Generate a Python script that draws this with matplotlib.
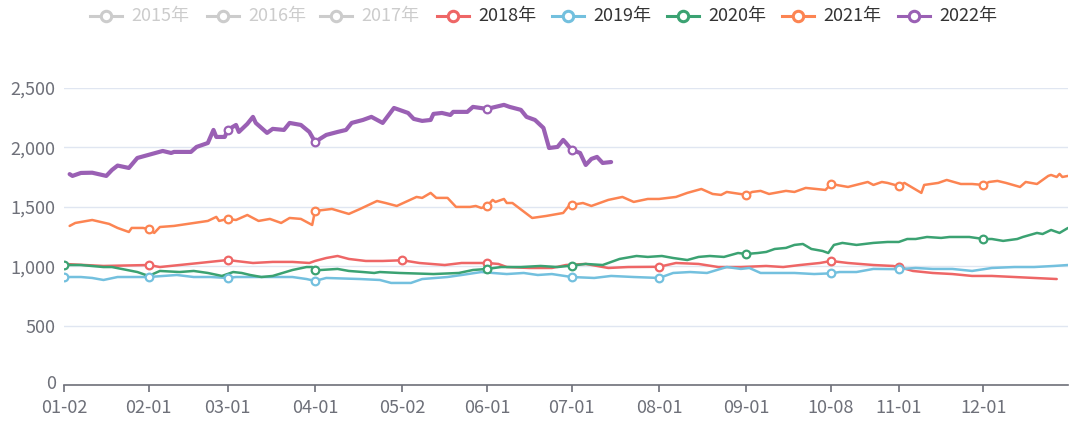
import matplotlib
matplotlib.use("Agg")
import matplotlib.pyplot as plt
from matplotlib.lines import Line2D
from matplotlib.transforms import ScaledTranslation
import pandas as pd

plt.rcParams['font.family'] = ['Noto Sans CJK SC', 'DejaVu Sans']

# ---------------- data ----------------
legend_names = ["2015年", "2016年", "2017年", "2018年", "2019年", "2020年", "2021年", "2022年"]
legend_active = [False, False, False, True, True, True, True, True]
tick_labels = ["01-02", "02-01", "03-01", "04-01", "05-02", "06-01", "07-01",
               "08-01", "09-01", "10-08", "11-01", "12-01"]

d2018 = ["01-02", "01-16", "02-01", "02-05", "02-19", "03-01", "03-10", "03-17", "03-24", "03-30",
         "04-01", "04-05", "04-09", "04-13", "04-19", "04-25", "05-02", "05-08", "05-17", "05-23",
         "06-01", "06-05", "06-08", "06-16", "06-24", "06-29", "07-06", "07-14", "07-21", "08-01",
         "08-07", "08-15", "08-22", "08-30", "09-08", "09-14", "09-20", "09-27", "10-08", "10-14",
         "10-23", "10-30", "11-01", "11-06", "11-13", "11-20", "11-27", "12-04", "12-12", "12-19",
         "12-27"]
v2018 = [1019, 1002, 1010, 993, 1027, 1052, 1027, 1036, 1036, 1027,
         1044, 1069, 1086, 1061, 1044, 1044, 1050, 1027, 1010, 1027,
         1027, 1019, 993, 985, 985, 1010, 1019, 985, 993, 995,
         1027, 1019, 993, 993, 1002, 993, 1010, 1027, 1044, 1027,
         1010, 1002, 993, 960, 943, 934, 918, 918, 909, 901,
         892]
m2018 = ["02-01", "03-01", "05-02", "06-01", "08-01", "10-08", "11-01"]

d2019 = ["01-02", "01-08", "01-12", "01-16", "01-21", "02-01", "02-11", "02-17", "02-23", "03-01",
         "03-04", "03-13", "03-24", "03-29", "04-01", "04-05", "04-17", "04-24", "04-28", "05-05",
         "05-09", "05-18", "05-23", "05-30", "06-03", "06-08", "06-14", "06-19", "06-24", "07-01",
         "07-09", "07-15", "07-23", "08-01", "08-06", "08-12", "08-18", "08-25", "08-30", "09-02",
         "09-06", "09-18", "09-25", "10-08", "10-11", "10-17", "10-23", "11-01", "11-07", "11-13",
         "11-20", "11-27", "12-04", "12-12", "12-19", "12-26", "12-31"]
v2019 = [909, 909, 901, 884, 909, 909, 926, 909, 909, 901,
         909, 909, 909, 892, 876, 901, 892, 884, 859, 859,
         892, 909, 926, 951, 943, 934, 943, 926, 934, 909,
         901, 918, 909, 901, 943, 951, 943, 993, 977, 985,
         943, 943, 934, 940, 951, 951, 977, 975, 985, 977,
         977, 960, 985, 993, 993, 1002, 1010]
m2019 = ["01-02", "02-01", "03-01", "04-01", "07-01", "08-01", "10-08", "11-01"]

d2020 = ["01-02", "01-08", "01-16", "01-19", "01-28", "02-01", "02-05", "02-12", "02-17", "02-22",
         "02-27", "03-03", "03-06", "03-09", "03-13", "03-17", "03-24", "03-29", "03-31", "04-01",
         "04-09", "04-13", "04-18", "04-22", "04-24", "05-01", "05-13", "05-22", "05-27", "06-01",
         "06-06", "06-13", "06-20", "06-26", "07-01", "07-06", "07-12", "07-18", "07-24", "07-28",
         "08-02", "08-06", "08-11", "08-15", "08-19", "08-24", "08-29", "09-01", "09-05", "09-08",
         "09-11", "09-15", "09-18", "09-21", "09-24", "09-28", "09-30", "10-09", "10-12", "10-17",
         "10-23", "10-28", "11-01", "11-04", "11-07", "11-11", "11-16", "11-19", "11-26", "12-01",
         "12-04", "12-08", "12-13", "12-15", "12-20", "12-22", "12-25", "12-28", "12-31"]
v2020 = [1010, 1010, 993, 993, 951, 918, 960, 951, 960, 943,
         918, 951, 943, 926, 909, 918, 968, 993, 993, 965,
         977, 960, 951, 943, 951, 943, 934, 943, 968, 977,
         993, 993, 1002, 993, 1005, 1019, 1010, 1061, 1086, 1078,
         1086, 1069, 1052, 1078, 1086, 1078, 1111, 1103, 1111, 1120,
         1145, 1154, 1179, 1187, 1145, 1128, 1111, 1179, 1196, 1179,
         1196, 1204, 1204, 1229, 1229, 1246, 1238, 1246, 1246, 1229,
         1229, 1213, 1229, 1246, 1280, 1271, 1305, 1280, 1322]
m2020 = ["01-02", "04-01", "06-01", "07-01", "09-01", "12-01"]

d2021 = ["01-04", "01-06", "01-12", "01-18", "01-21", "01-25", "01-26", "01-30", "02-01", "02-03",
         "02-05", "02-10", "02-22", "02-25", "02-26", "03-01", "03-04", "03-08", "03-12", "03-16",
         "03-20", "03-23", "03-27", "03-31", "04-01", "04-07", "04-13", "04-17", "04-23", "04-26",
         "04-30", "05-07", "05-09", "05-12", "05-14", "05-18", "05-21", "05-26", "05-28", "05-30",
         "06-01", "06-03", "06-04", "06-07", "06-08", "06-10", "06-17", "06-22", "06-28", "06-30",
         "07-01", "07-05", "07-08", "07-14", "07-19", "07-23", "07-28", "08-01", "08-07", "08-11",
         "08-16", "08-20", "08-23", "08-25", "09-01", "09-03", "09-06", "09-09", "09-15", "09-18",
         "09-22", "09-29", "10-08", "10-14", "10-21", "10-23", "10-26", "10-28", "11-01", "11-03",
         "11-06", "11-09", "11-10", "11-15", "11-18", "11-23", "11-27", "12-01", "12-03", "12-06",
         "12-09", "12-14", "12-16", "12-20", "12-24", "12-25", "12-27", "12-28", "12-29", "12-31"]
v2021 = [1339, 1364, 1389, 1356, 1322, 1288, 1322, 1322, 1313, 1280,
         1330, 1339, 1381, 1415, 1381, 1398, 1389, 1431, 1381, 1398,
         1364, 1406, 1398, 1347, 1465, 1482, 1440, 1482, 1549, 1532,
         1507, 1583, 1575, 1617, 1575, 1575, 1499, 1499, 1507, 1490,
         1507, 1558, 1541, 1566, 1532, 1532, 1406, 1423, 1448, 1507,
         1515, 1532, 1507, 1558, 1583, 1541, 1566, 1566, 1583, 1617,
         1650, 1608, 1600, 1625, 1600, 1625, 1634, 1608, 1634, 1625,
         1659, 1642, 1692, 1667, 1709, 1684, 1709, 1701, 1675, 1701,
         1659, 1617, 1684, 1701, 1726, 1692, 1692, 1684, 1709, 1718,
         1701, 1667, 1709, 1692, 1760, 1768, 1751, 1777, 1751, 1760]
m2021 = ["02-01", "03-01", "04-01", "06-01", "07-01", "09-01", "10-08", "11-01", "12-01"]

d2022 = ["01-04", "01-05", "01-08", "01-12", "01-17", "01-19", "01-21", "01-25", "01-28", "02-06",
         "02-09", "02-10", "02-16", "02-18", "02-22", "02-24", "02-25", "02-28", "03-01", "03-04",
         "03-05", "03-08", "03-10", "03-11", "03-15", "03-17", "03-21", "03-23", "03-27", "03-30",
         "04-01", "04-05", "04-09", "04-12", "04-14", "04-18", "04-21", "04-25", "04-29", "05-04",
         "05-06", "05-09", "05-12", "05-13", "05-16", "05-19", "05-20", "05-25", "05-27", "06-01",
         "06-07", "06-09", "06-13", "06-15", "06-18", "06-21", "06-23", "06-26", "06-28", "06-29",
         "07-01", "07-04", "07-06", "07-08", "07-10", "07-12", "07-15"]
v2022 = [1775, 1760, 1785, 1787, 1760, 1810, 1847, 1827, 1911, 1970,
         1953, 1962, 1962, 2004, 2037, 2147, 2088, 2088, 2147, 2189,
         2130, 2198, 2257, 2206, 2122, 2156, 2147, 2206, 2189, 2130,
         2046, 2105, 2130, 2147, 2206, 2231, 2257, 2206, 2332, 2290,
         2240, 2223, 2231, 2282, 2290, 2273, 2299, 2299, 2341, 2324,
         2358, 2341, 2316, 2257, 2231, 2164, 1995, 2004, 2063, 2037,
         1979, 1953, 1852, 1903, 1920, 1869, 1877]
m2022 = ["03-01", "04-01", "06-01", "07-01"]

# ---------------- category axis ----------------
days = pd.date_range("2021-01-02", "2021-12-31")
days = days[~((days.month == 10) & (days.day <= 7))]
cats = [d.strftime("%m-%d") for d in days]
pos = {c: i for i, c in enumerate(cats)}

all_colors = ["#5470c6", "#91cc75", "#fac858", "#ee6666", "#73c0de", "#3ba272", "#fc8452", "#9a60b4"]
series = [
    (d2018, v2018, m2018, all_colors[3], 1.8),
    (d2019, v2019, m2019, all_colors[4], 1.8),
    (d2020, v2020, m2020, all_colors[5], 1.8),
    (d2021, v2021, m2021, all_colors[6], 1.8),
    (d2022, v2022, m2022, all_colors[7], 3.0),
]

fig = plt.figure(figsize=(10.8, 4.23), dpi=100)
ax = fig.add_axes([64 / 1080, 1 - 385 / 423, (1068 - 64) / 1080, (385 - 88) / 423])

for dates, vals, marks, col, lw in series:
    xs = [pos[d] for d in dates]
    ax.plot(xs, vals, color=col, lw=lw, solid_joinstyle="round", solid_capstyle="round", zorder=3)
    mx = [pos[d] for d in marks]
    my = [vals[dates.index(d)] for d in marks]
    ax.plot(mx, my, ls="none", marker="o", ms=5.5, mfc="white", mec=col, mew=1.6, zorder=4)

ax.set_xlim(0, len(cats) - 1)
ax.set_ylim(0, 2500)
ax.set_yticks([0, 500, 1000, 1500, 2000, 2500])
ax.set_yticklabels([f"{v:,}" for v in [0, 500, 1000, 1500, 2000, 2500]])
ax.set_xticks([pos[t] for t in tick_labels])
ax.set_xticklabels(tick_labels)
ax.grid(axis="y", color="#e0e6f1", lw=1.0, zorder=0)
ax.set_axisbelow(True)
for s in ["top", "right", "left"]:
    ax.spines[s].set_visible(False)
ax.spines["bottom"].set_color("#6e7079")
ax.spines["bottom"].set_linewidth(1.2)
ax.tick_params(axis="x", colors="#6e7079", length=5, width=1.2, labelsize=13, pad=5,
               labelcolor="#6e7079")
ax.tick_params(axis="y", length=0, labelsize=13, pad=6, labelcolor="#6e7079")
# nudge the "0" label up a little so it clears the first date label
zero_lbl = ax.get_yticklabels()[0]
zero_lbl.set_transform(zero_lbl.get_transform() + ScaledTranslation(0, 3 / 100, fig.dpi_scale_trans))

# ---------------- legend (drawn manually, ECharts style) ----------------
leg_start = [90, 207, 320, 437, 552, 667, 782, 898]
ly = 1 - 16 / 423
for name, active, col, x0 in zip(legend_names, legend_active, all_colors, leg_start):
    c = col if active else "#cccccc"
    tc = "#333333" if active else "#cccccc"
    x1 = x0 + 32
    fig.add_artist(Line2D([x0 / 1080, x1 / 1080], [ly, ly], color=c, lw=2.2,
                          transform=fig.transFigure))
    fig.add_artist(Line2D([(x0 + x1) / 2 / 1080], [ly], ls="none", marker="o", ms=7.5,
                          mfc="white", mec=c, mew=2.2, transform=fig.transFigure))
    fig.text((x1 + 9) / 1080, ly, name, color=tc, fontsize=13, va="center", ha="left")

fig.savefig("out.png", dpi=100, facecolor="white")
